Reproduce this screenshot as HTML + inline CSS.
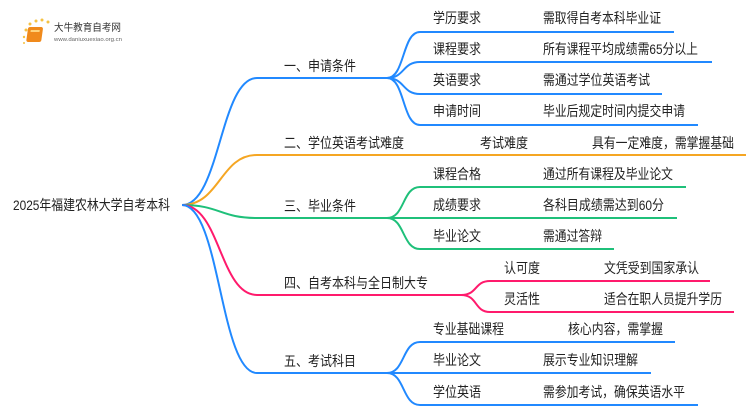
<!DOCTYPE html>
<html><head><meta charset="utf-8"><style>
html,body{margin:0;padding:0;background:#fff;width:750px;height:410px;overflow:hidden}
svg{display:block}
text{font-family:"Liberation Sans","Noto Sans CJK SC",sans-serif;fill:#222;font-size:14px}
</style></head><body>
<svg width="750" height="410" viewBox="0 0 750 410" xmlns="http://www.w3.org/2000/svg">
<!-- logo -->
<g>
<circle cx="26" cy="30" r="1.5" fill="#f5c242"/><circle cx="30" cy="24" r="1.5" fill="#f5c242"/><circle cx="36" cy="21" r="1.5" fill="#f5c242"/><circle cx="42" cy="20" r="1.5" fill="#f5c242"/><circle cx="48" cy="22" r="1.5" fill="#f5c242"/><circle cx="24" cy="37" r="1.2" fill="#f5c242"/><circle cx="24" cy="43" r="1" fill="#f5c242"/>
<rect x="32" y="27" width="15" height="15" rx="2" fill="#f08a1c" transform="skewX(-8)"/>
<rect x="35" y="30" width="9" height="2" fill="#ffd27a" transform="skewX(-8)"/>
<text x="54" y="31" textLength="67" lengthAdjust="spacingAndGlyphs" style="font-size:10px;fill:#333">大牛教育自考网</text>
<text x="54" y="41" textLength="68" lengthAdjust="spacingAndGlyphs" style="font-size:5px;fill:#666">www.daniuxuexiao.org.cn</text>
</g>
<g fill="none" stroke-width="2">
<path d="M182 205 C220 205,220 78,257 78 L387 78" stroke="#2189ff"/>
<path d="M182 205 C220 205,220 155,257 155 L746 155" stroke="#f5a623"/>
<path d="M182 205 C220 205,220 218,257 218 L387 218" stroke="#1fc07a"/>
<path d="M182 205 C220 205,220 295,257 295 L461 295" stroke="#ff1a6c"/>
<path d="M182 205 C220 205,220 373,257 373 L387 373" stroke="#2189ff"/>
<g stroke="#2189ff">
<path d="M387 78 C405 78,402 32,420 32 L674 32"/>
<path d="M387 78 C405 78,402 62,420 62 L712 62"/>
<path d="M387 78 C405 78,402 94,420 94 L662 94"/>
<path d="M387 78 C405 78,402 125,420 125 L698 125"/>
</g>
<g stroke="#1fc07a">
<path d="M387 218 C405 218,402 187,420 187 L686 187"/>
<path d="M387 218 L677 218"/>
<path d="M387 218 C405 218,402 249,420 249 L614 249"/>
</g>
<g stroke="#ff1a6c">
<path d="M461 295 C478 295,474 281,490 281 L710 281"/>
<path d="M461 295 C478 295,474 312,490 312 L734 312"/>
</g>
<g stroke="#2189ff">
<path d="M387 373 C405 373,402 342,420 342 L675 342"/>
<path d="M387 373 L651 373"/>
<path d="M387 373 C405 373,402 405,420 405 L698 405"/>
</g>
</g>
<text x="13" y="210" textLength="157" lengthAdjust="spacingAndGlyphs">2025年福建农林大学自考本科</text>
<text x="284" y="71" textLength="72" lengthAdjust="spacingAndGlyphs">一、申请条件</text>
<text x="284" y="148" textLength="120" lengthAdjust="spacingAndGlyphs">二、学位英语考试难度</text>
<text x="284" y="211" textLength="72" lengthAdjust="spacingAndGlyphs">三、毕业条件</text>
<text x="284" y="288" textLength="144" lengthAdjust="spacingAndGlyphs">四、自考本科与全日制大专</text>
<text x="284" y="366" textLength="72" lengthAdjust="spacingAndGlyphs">五、考试科目</text>

<text x="433" y="23" textLength="48" lengthAdjust="spacingAndGlyphs">学历要求</text><text x="543" y="23" textLength="118" lengthAdjust="spacingAndGlyphs">需取得自考本科毕业证</text>
<text x="433" y="54" textLength="48" lengthAdjust="spacingAndGlyphs">课程要求</text><text x="543" y="54" textLength="155" lengthAdjust="spacingAndGlyphs">所有课程平均成绩需65分以上</text>
<text x="433" y="85" textLength="48" lengthAdjust="spacingAndGlyphs">英语要求</text><text x="543" y="85" textLength="107" lengthAdjust="spacingAndGlyphs">需通过学位英语考试</text>
<text x="433" y="116" textLength="48" lengthAdjust="spacingAndGlyphs">申请时间</text><text x="543" y="116" textLength="142" lengthAdjust="spacingAndGlyphs">毕业后规定时间内提交申请</text>

<text x="480" y="148" textLength="48" lengthAdjust="spacingAndGlyphs">考试难度</text><text x="592" y="148" textLength="142" lengthAdjust="spacingAndGlyphs">具有一定难度，需掌握基础</text>

<text x="433" y="179" textLength="48" lengthAdjust="spacingAndGlyphs">课程合格</text><text x="543" y="179" textLength="130" lengthAdjust="spacingAndGlyphs">通过所有课程及毕业论文</text>
<text x="433" y="210" textLength="48" lengthAdjust="spacingAndGlyphs">成绩要求</text><text x="543" y="210" textLength="121" lengthAdjust="spacingAndGlyphs">各科目成绩需达到60分</text>
<text x="433" y="241" textLength="48" lengthAdjust="spacingAndGlyphs">毕业论文</text><text x="543" y="241" textLength="59" lengthAdjust="spacingAndGlyphs">需通过答辩</text>

<text x="504" y="273" textLength="36" lengthAdjust="spacingAndGlyphs">认可度</text><text x="604" y="273" textLength="95" lengthAdjust="spacingAndGlyphs">文凭受到国家承认</text>
<text x="504" y="304" textLength="36" lengthAdjust="spacingAndGlyphs">灵活性</text><text x="604" y="304" textLength="118" lengthAdjust="spacingAndGlyphs">适合在职人员提升学历</text>

<text x="433" y="334" textLength="71" lengthAdjust="spacingAndGlyphs">专业基础课程</text><text x="568" y="334" textLength="95" lengthAdjust="spacingAndGlyphs">核心内容，需掌握</text>
<text x="433" y="365" textLength="48" lengthAdjust="spacingAndGlyphs">毕业论文</text><text x="543" y="365" textLength="95" lengthAdjust="spacingAndGlyphs">展示专业知识理解</text>
<text x="433" y="397" textLength="48" lengthAdjust="spacingAndGlyphs">学位英语</text><text x="543" y="397" textLength="142" lengthAdjust="spacingAndGlyphs">需参加考试，确保英语水平</text>
</svg>
</body></html>
